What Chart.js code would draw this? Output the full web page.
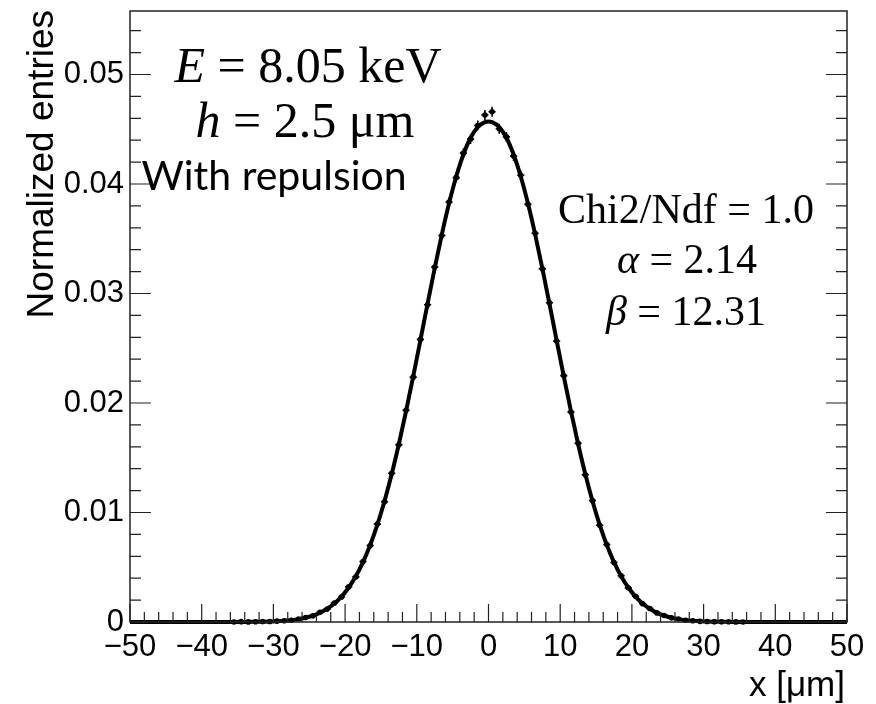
<!DOCTYPE html>
<html>
<head>
<meta charset="utf-8">
<script src="https://cdn.jsdelivr.net/npm/chart.js@4/dist/chart.umd.min.js"></script>
<style>
  html, body { margin: 0; padding: 0; background: #fff; }
  #wrap { width: 876px; height: 704px; }
</style>
</head>
<body>
<div id="wrap"><canvas id="c" width="876" height="704"></canvas></div>
<script>
// ---- data ----
const binCenters = [
  -35.5,-34.5,-33.5,-32.5,-31.5,-30.5,-29.5,-28.5,-27.5,-26.5,-25.5,-24.5,-23.5,-22.5,-21.5,-20.5,-19.5,-18.5,
  -17.5,-16.5,-15.5,-14.5,-13.5,-12.5,-11.5,-10.5,-9.5,-8.5,-7.5,-6.5,-5.5,-4.5,-3.5,-2.5,-1.5,-0.5,
  0.5,1.5,2.5,3.5,4.5,5.5,6.5,7.5,8.5,9.5,10.5,11.5,12.5,13.5,14.5,15.5,16.5,17.5,
  18.5,19.5,20.5,21.5,22.5,23.5,24.5,25.5,26.5,27.5,28.5,29.5,30.5,31.5,32.5,33.5,34.5,35.5
];
const entries = [
  0,0.00003,0.00001,0.00002,0.00004,0.00005,0.00008,0.00012,0.00016,0.00028,0.00041,0.00056,0.00089,0.00118,0.00174,0.00228,0.00321,0.00412,
  0.00553,0.00698,0.00894,0.01098,0.01359,0.01618,0.01934,0.02236,0.02581,0.02897,0.03241,0.03530,0.03836,0.04058,0.04282,0.04410,0.04535,0.04630,
  0.04660,0.04505,0.04430,0.04255,0.04080,0.03815,0.03550,0.03225,0.02915,0.02566,0.02250,0.01918,0.01632,0.01345,0.01110,0.00884,0.00708,0.00543,
  0.00422,0.00312,0.00235,0.00166,0.00123,0.00083,0.00060,0.00038,0.00027,0.00016,0.00012,0.00006,0.00005,0.00003,0.00002,0.00002,0.00001,0
];
const entryErrors = [
  0.00001,0.00001,0.00001,0.00001,0.00001,0.00002,0.00002,0.00002,0.00003,0.00003,0.00004,0.00005,0.00006,0.00007,0.00009,0.00010,0.00012,0.00014,
  0.00016,0.00018,0.00020,0.00022,0.00024,0.00027,0.00029,0.00032,0.00034,0.00036,0.00038,0.00040,0.00041,0.00043,0.00044,0.00044,0.00045,0.00045,
  0.00045,0.00045,0.00044,0.00044,0.00043,0.00041,0.00040,0.00038,0.00036,0.00034,0.00032,0.00029,0.00027,0.00024,0.00022,0.00020,0.00018,0.00016,
  0.00014,0.00012,0.00010,0.00009,0.00007,0.00006,0.00005,0.00004,0.00003,0.00003,0.00002,0.00002,0.00002,0.00001,0.00001,0.00001,0.00001,0.00001
];
const fitX = [
  -50,-45,-40,-36.5,-35.5,-34.5,-33.5,-32.5,-31.5,-30.5,-29.5,-28.5,-27.5,-26.5,-25.5,-24.5,-23.5,-22.5,-21.5,-20.5,-19.5,-18.5,
  -17.5,-16.5,-15.5,-14.5,-13.5,-12.5,-11.5,-10.5,-9.5,-8.5,-7.5,-6.5,-5.5,-4.5,-3.5,-2.5,-1.5,-0.5,0,
  0.5,1.5,2.5,3.5,4.5,5.5,6.5,7.5,8.5,9.5,10.5,11.5,12.5,13.5,14.5,15.5,16.5,17.5,
  18.5,19.5,20.5,21.5,22.5,23.5,24.5,25.5,26.5,27.5,28.5,29.5,30.5,31.5,32.5,33.5,34.5,35.5,36.5,40,45,50
];
const fitY = [
  0,0,0,0,0.000002,0.000004,0.00001,0.00002,0.00003,0.00004,0.00007,0.00011,0.00017,0.00026,0.00040,0.00058,0.00085,0.00121,0.00169,0.00232,0.00315,0.00418,
  0.00547,0.00703,0.00889,0.01105,0.01351,0.01626,0.01925,0.02243,0.02573,0.02906,0.03232,0.03542,0.03824,0.04069,0.04270,0.04422,0.04520,0.04565,0.04570,
  0.04565,0.04520,0.04422,0.04270,0.04069,0.03824,0.03542,0.03232,0.02906,0.02573,0.02243,0.01925,0.01626,0.01351,0.01105,0.00889,0.00703,0.00547,
  0.00418,0.00315,0.00232,0.00169,0.00121,0.00085,0.00058,0.00040,0.00026,0.00017,0.00011,0.00007,0.00004,0.00003,0.00002,0.00001,0.000004,0.000002,0,0,0,0
];
const xTickValues = [-50,-40,-30,-20,-10,0,10,20,30,40,50];
const yTickValues = [0,0.01,0.02,0.03,0.04,0.05];

const binHalfWidth = 0.5;

// ---- plugins ----
const errorBarsPlugin = {
  id: 'errorBars',
  afterDatasetsDraw(chart) {
    const ctx = chart.ctx, xs = chart.scales.x, ys = chart.scales.y;
    ctx.save();
    ctx.strokeStyle = '#000';
    ctx.lineWidth = 1.6;
    binCenters.forEach((cx, i) => {
      const px = xs.getPixelForValue(cx);
      const py = ys.getPixelForValue(entries[i]);
      const pTop = ys.getPixelForValue(entries[i] + entryErrors[i]);
      const pBot = ys.getPixelForValue(Math.max(0, entries[i] - entryErrors[i]));
      const pl = xs.getPixelForValue(cx - binHalfWidth);
      const pr = xs.getPixelForValue(cx + binHalfWidth);
      ctx.beginPath();
      ctx.moveTo(px, pTop); ctx.lineTo(px, pBot);
      ctx.moveTo(pl, py); ctx.lineTo(pr, py);
      ctx.stroke();
    });
    ctx.restore();
  }
};

function drawSegments(ctx, segs, cx, baseline) {
  let total = 0;
  segs.forEach(s => { ctx.font = s.font; s.w = ctx.measureText(s.t).width; total += s.w; });
  let x = cx - total / 2;
  segs.forEach(s => { ctx.font = s.font; ctx.fillText(s.t, x, baseline); x += s.w; });
}

const framePlugin = {
  id: 'rootFrame',
  afterDraw(chart) {
    const ctx = chart.ctx, a = chart.chartArea, xs = chart.scales.x, ys = chart.scales.y;
    ctx.save();
    ctx.strokeStyle = '#222';
    ctx.lineWidth = 1.5;
    ctx.strokeRect(a.left, a.top, a.right - a.left, a.bottom - a.top);
    ctx.lineWidth = 1.2;
    ctx.beginPath();
    for (let i = 0; i <= 50; i++) {
      const v = -50 + i * 2;
      const px = xs.getPixelForValue(v);
      const len = (v % 10 === 0) ? 18 : 10;
      ctx.moveTo(px, a.bottom); ctx.lineTo(px, a.bottom - len);
    }
    for (let i = 0; i <= 27; i++) {
      const v = i * 0.002;
      const py = ys.getPixelForValue(v);
      const len = (i % 5 === 0) ? 21 : 11;
      ctx.moveTo(a.left, py); ctx.lineTo(a.left + len, py);
      ctx.moveTo(a.right, py); ctx.lineTo(a.right - len, py);
    }
    ctx.stroke();

    // axis titles
    ctx.fillStyle = '#000';
    ctx.font = '35px "Liberation Sans", Arial, sans-serif';
    ctx.textAlign = 'right';
    ctx.textBaseline = 'alphabetic';
    ctx.fillText('x [\u03bcm]', 845, 696);
    ctx.save();
    ctx.translate(53, 10);
    ctx.rotate(-Math.PI / 2);
    ctx.font = '37px "Liberation Sans", Arial, sans-serif';
    ctx.fillText('Normalized entries', 0, 0);
    ctx.restore();

    // annotations
    ctx.textAlign = 'left';
    const serif = '"Liberation Serif", "DejaVu Serif", serif';
    const L = 50, R = 42;
    drawSegments(ctx, [
      {t: 'E', font: `italic ${L}px ${serif}`},
      {t: ' = 8.05 keV', font: `${L}px ${serif}`}
    ], 308, 82);
    drawSegments(ctx, [
      {t: 'h', font: `italic ${L}px ${serif}`},
      {t: ' = 2.5 \u03bcm', font: `${L}px ${serif}`}
    ], 305, 137);
    drawSegments(ctx, [
      {t: 'With repulsion', font: '41px Lato, "Open Sans", sans-serif'}
    ], 274, 190);
    drawSegments(ctx, [
      {t: 'Chi2/Ndf = 1.0', font: `${R}px ${serif}`}
    ], 686, 223);
    drawSegments(ctx, [
      {t: '\u03b1', font: `italic ${R}px ${serif}`},
      {t: ' = 2.14', font: `${R}px ${serif}`}
    ], 687, 273);
    drawSegments(ctx, [
      {t: '\u03b2', font: `italic ${R}px ${serif}`},
      {t: ' = 12.31', font: `${R}px ${serif}`}
    ], 686, 325);
    ctx.restore();
  }
};

new Chart(document.getElementById('c'), {
  type: 'scatter',
  data: {
    datasets: [
      {
        label: 'fit',
        data: fitX.map((x, i) => ({x: x, y: fitY[i]})),
        showLine: true,
        borderColor: '#000',
        borderWidth: 4,
        pointRadius: 0,
        cubicInterpolationMode: 'monotone',
        clip: false,
        order: 0
      },
      {
        label: 'data',
        data: binCenters.map((x, i) => ({x: x, y: entries[i]})),
        showLine: false,
        pointRadius: 2.8,
        pointBackgroundColor: '#000',
        pointBorderColor: '#000',
        pointBorderWidth: 0,
        clip: false,
        order: 1
      }
    ]
  },
  options: {
    responsive: false,
    animation: false,
    devicePixelRatio: 1,
    layout: { padding: { left: 0, right: 29, top: 11, bottom: 0 } },
    plugins: { legend: { display: false }, tooltip: { enabled: false } },
    scales: {
      x: {
        type: 'linear', min: -50, max: 50,
        afterFit(scale) { scale.height = 82; scale.paddingLeft = 0; scale.paddingRight = 0; },
        afterBuildTicks(scale) { scale.ticks = xTickValues.map(v => ({value: v})); },
        grid: { display: false, drawTicks: false },
        border: { display: false },
        ticks: {
          color: '#000', padding: 7, maxRotation: 0, autoSkip: false,
          font: { family: '"Liberation Sans", Arial, sans-serif', size: 31 },
          callback: v => String(v).replace('-', '\u2212')
        }
      },
      y: {
        type: 'linear', min: 0, max: 0.0558,
        afterFit(scale) { scale.width = 130; scale.paddingTop = 0; scale.paddingBottom = 0; },
        afterBuildTicks(scale) { scale.ticks = yTickValues.map(v => ({value: v})); },
        grid: { display: false, drawTicks: false },
        border: { display: false },
        ticks: {
          color: '#000', padding: 6, autoSkip: false,
          font: { family: '"Liberation Sans", Arial, sans-serif', size: 31 },
          callback: v => v === 0 ? '0' : v.toFixed(2)
        }
      }
    }
  },
  plugins: [errorBarsPlugin, framePlugin]
});
</script>
</body>
</html>
